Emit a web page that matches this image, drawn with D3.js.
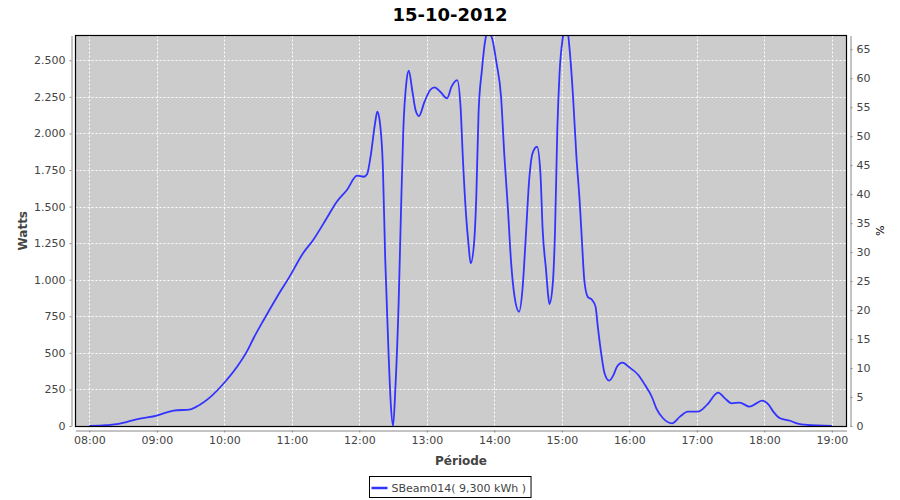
<!DOCTYPE html>
<html><head><meta charset="utf-8">
<script src="https://cdn.jsdelivr.net/npm/d3@7"></script>
<style>
body{margin:0;background:#fff;}
svg{display:block;font-family:"DejaVu Sans",sans-serif;}
</style></head><body>
<svg id="c" width="900" height="500"></svg>
<script>
const title = "15-10-2012";
const seriesName = "SBeam014( 9,300 kWh )";
const times = ["08:00","08:15","08:26","08:33","08:45","09:00","09:09","09:15","09:30","09:38","09:47","09:59",
"10:11","10:20","10:26","10:35","10:47","10:58","11:10","11:19","11:31","11:40","11:49","11:58",
"12:04","12:07","12:10","12:14","12:16","12:18","12:21","12:23","12:26","12:28","12:30","12:32","12:35","12:37","12:39","12:42","12:44","12:47","12:50","12:53","12:58",
"13:03","13:07","13:12","13:18","13:22","13:27","13:30","13:32","13:35","13:37","13:39","13:42","13:44","13:46","13:49","13:52","13:54","13:58",
"14:02","14:06","14:09","14:12","14:15","14:18","14:22","14:25","14:28","14:31","14:34","14:38","14:41","14:43","14:46","14:48","14:49","14:52","14:54","14:56","14:58",
"15:01","15:04","15:07","15:10","15:13","15:16","15:18","15:20","15:23","15:27","15:30","15:32","15:35","15:38","15:42","15:46","15:49","15:54",
"16:00","16:08","16:14","16:20","16:24","16:30","16:38","16:45","16:52",
"17:01","17:09","17:19","17:25","17:31","17:38","17:47","17:53","17:58",
"18:04","18:08","18:14","18:23","18:29","18:38","19:00"];
const watts = [0,5,14,27,50,71,93,105,114,144,194,287,
401,508,600,725,884,1021,1181,1272,1420,1533,1613,1711,
1704,1723,1841,2069,2149,2092,1760,1150,500,150,0,246,850,1450,2000,2360,2430,2297,2160,2119,2217,
2297,2315,2285,2240,2320,2365,2183,1841,1431,1249,1112,1249,1568,2138,2434,2639,2700,2650,
2480,2251,1841,1499,1112,884,781,930,1294,1682,1864,1909,1728,1340,1066,884,834,975,1340,2023,2411,
2661,2750,2570,2251,1841,1522,1249,998,884,861,816,679,497,360,310,349,405,433,
401,349,280,200,121,53,18,64,98,
98,144,228,189,155,160,132,155,173,
144,98,53,36,18,7,0];
const leftTicks = [0,250,500,750,1000,1250,1500,1750,2000,2250,2500];
const rightTicks = [0,5,10,15,20,25,30,35,40,45,50,55,60,65];
const xTicks = ["08:00","09:00","10:00","11:00","12:00","13:00","14:00","15:00","16:00","17:00","18:00","19:00"];
const xLabel = "Période", yLabel = "Watts", y2Label = "%";

const parse = d3.timeParse("%H:%M:%S");
const pt = s => parse(s.length === 5 ? s + ":00" : s);
const data = times.map((t,i)=>({t:pt(t), v:watts[i]}));

const L=75.5, R=846.5, T=35.5, B=426;
const x = d3.scaleTime().domain([pt("07:47:44"), pt("19:13:04")]).range([L,R]);
const y = d3.scaleLinear().domain([0,2669.5]).range([B,T]);
const y2 = d3.scaleLinear().domain([0,67.38]).range([B,T]);
const loc = d3.formatLocale({decimal:",",thousands:".",grouping:[3],currency:["","€"]});
const fmt = loc.format(",d");

const svg = d3.select("#c");
svg.append("rect").attr("width",900).attr("height",500).attr("fill","#fff");

svg.append("text").attr("x",450).attr("y",21).attr("text-anchor","middle")
  .attr("font-size",18).attr("font-weight","bold").attr("fill","#000").text(title);

// plot background
svg.append("rect").attr("x",L).attr("y",T).attr("width",R-L).attr("height",B-T).attr("fill","#cccccc");

// grid
const g = svg.append("g");
g.selectAll(".hg").data(leftTicks).join("line")
  .attr("x1",L).attr("x2",R).attr("y1",d=>Math.round(y(d))+0.5).attr("y2",d=>Math.round(y(d))+0.5)
  .attr("stroke","#fff").attr("stroke-width",1).attr("stroke-dasharray","2,2");
g.selectAll(".vg").data(xTicks).join("line")
  .attr("y1",T).attr("y2",B).attr("x1",d=>Math.round(x(pt(d)))+0.5).attr("x2",d=>Math.round(x(pt(d)))+0.5)
  .attr("stroke","#fff").attr("stroke-width",1).attr("stroke-dasharray","2,2");

// line
svg.append("clipPath").attr("id","clip").append("rect").attr("x",L).attr("y",T).attr("width",R-L).attr("height",B-T);
const line = d3.line().x(d=>x(d.t)).y(d=>y(d.v)).curve(d3.curveMonotoneX);
svg.append("path").datum(data).attr("clip-path","url(#clip)").attr("d",line)
  .attr("fill","none").attr("stroke","#3333ff").attr("stroke-width",1.8).attr("stroke-linejoin","round");

// frame
svg.append("rect").attr("x",L).attr("y",T).attr("width",R-L).attr("height",B-T+0.5)
  .attr("fill","none").attr("stroke","#000").attr("stroke-width",1.2);

// axes
const axColor = "#888", txtColor = "#444";
function style(sel){
  sel.select(".domain").attr("stroke",axColor);
  sel.selectAll(".tick line").attr("stroke",axColor);
  sel.selectAll(".tick text").attr("fill",txtColor).attr("font-size",11).attr("font-family","DejaVu Sans, sans-serif");
}
const yAx = svg.append("g").attr("transform","translate(71.5,0)")
  .call(d3.axisLeft(y).tickValues(leftTicks).tickFormat(fmt).tickSize(2).tickSizeOuter(0).tickPadding(4));
style(yAx);
const y2Ax = svg.append("g").attr("transform","translate(850.5,0)")
  .call(d3.axisRight(y2).tickValues(rightTicks).tickFormat(d3.format("d")).tickSize(2).tickSizeOuter(0).tickPadding(4));
style(y2Ax);
const xAx = svg.append("g").attr("transform","translate(0,430.5)")
  .call(d3.axisBottom(x).tickValues(xTicks.map(pt)).tickFormat(d3.timeFormat("%H:%M")).tickSize(2).tickSizeOuter(0).tickPadding(4));
style(xAx);
xAx.selectAll(".tick text").attr("dy","0.71em");

// axis labels
svg.append("text").attr("x",(L+R)/2).attr("y",465).attr("text-anchor","middle")
  .attr("font-size",12).attr("font-weight","bold").attr("fill",txtColor).text(xLabel);
svg.append("text").attr("transform",`translate(27,${(T+B)/2}) rotate(-90)`).attr("text-anchor","middle")
  .attr("font-size",12).attr("font-weight","bold").attr("fill",txtColor).text(yLabel);
svg.append("text").attr("transform",`translate(876,${(T+B)/2}) rotate(90)`).attr("text-anchor","middle")
  .attr("font-size",11).attr("fill","#000").text(y2Label);

// legend
const lg = svg.append("g");
const lt = lg.append("text").attr("y",492).attr("font-size",11).attr("fill",txtColor).text(seriesName);
const tw = lt.node().getComputedTextLength();
const bw = 2 + 16 + 4 + tw + 5;
const bx = Math.round(450 - bw/2) + 0.5;
lg.append("rect").attr("x",bx).attr("y",476.5).attr("width",bw).attr("height",21)
  .attr("fill","#fff").attr("stroke","#000").attr("stroke-width",1);
lg.append("line").attr("x1",bx+2).attr("x2",bx+18).attr("y1",488).attr("y2",488)
  .attr("stroke","#3333ff").attr("stroke-width",2.5);
lt.attr("x",bx+22).raise();
</script></body></html>
